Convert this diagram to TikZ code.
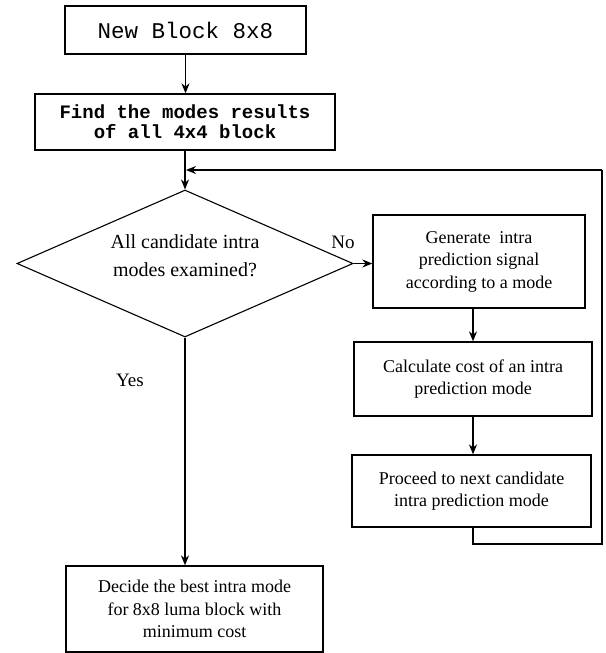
\documentclass[tikz,border=0pt]{standalone}
\usepackage{fontspec}
\setmainfont{Liberation Serif}
\newfontfamily\monof{Liberation Mono}
\usetikzlibrary{shapes.geometric,arrows.meta}
\tikzset{
  box/.style={draw,line width=1.3pt,rectangle,inner sep=0pt,align=center,font=\fontsize{18}{22.5}\selectfont},
  monobox/.style={box,font=\monof\fontsize{18}{20}\selectfont},
  decision/.style={draw,line width=1.1pt,diamond,inner sep=0pt,aspect=2.29,minimum width=336pt,minimum height=147pt,font=\fontsize{20}{27}\selectfont},
  arr/.style={line width=1.3pt,-{Stealth[length=10pt,width=8pt]}},
  ln/.style={line width=1.3pt},
  lbl/.style={font=\fontsize{19}{20}\selectfont,inner sep=0pt}
}
\begin{document}
\begin{tikzpicture}[x=1pt,y=-1pt]
\useasboundingbox (0,0) rectangle (605,653);
\node[monobox,minimum width=241pt,minimum height=48pt,font=\monof\fontsize{22.5}{24}\selectfont] (b1) at (185.5,30) {New Block 8x8};
\node[monobox,minimum width=300pt,minimum height=56pt,font=\monof\bfseries\fontsize{19}{20}\selectfont] (b2) at (185,122) {Find the modes results\\of all 4x4 block};
\node[decision] (d) at (185,263.5) {\raisebox{0pt}[\height][\dimexpr\depth+12pt\relax]{\begin{tabular}{@{}c@{}}All candidate intra\\[1pt]modes examined?\end{tabular}}};
\node[box,minimum width=212pt,minimum height=93pt] (b3) at (479,261.5) {Generate\ \ intra\\prediction signal\\according to a mode};
\node[box,minimum width=238pt,minimum height=74pt] (b4) at (473,379) {Calculate cost of an intra\\prediction mode};
\node[box,minimum width=239pt,minimum height=72pt] (b5) at (471.5,491) {Proceed to next candidate\\intra prediction mode};
\node[box,minimum width=257pt,minimum height=86pt] (b6) at (194.5,609) {Decide the best intra mode\\for 8x8 luma block with\\minimum cost};
\node[lbl] (no) at (343,242) {No};
\node[lbl] (yes) at (130,380) {Yes};
\coordinate (lb) at (473,544);
\coordinate (lr) at (602,544);
\coordinate (lt) at (602,170);
\coordinate (lj) at (186,170);
\draw[arr] (b1.south) -- (b1.south |- b2.north);
\draw[arr] (b2.south) -- (d.north);
\draw[arr] (d.east) -- (d.east -| b3.west);
\draw[arr] (b4.north |- b3.south) -- (b4.north);
\draw[arr] (b4.south) -- (b4.south |- b5.north);
\draw[ln] (lb |- b5.south) -- (lb) -- (lr) -- (lt);
\draw[arr] (lt) -- (lj);
\draw[arr] (d.south) -- (d.south |- b6.north);
\end{tikzpicture}
\end{document}
